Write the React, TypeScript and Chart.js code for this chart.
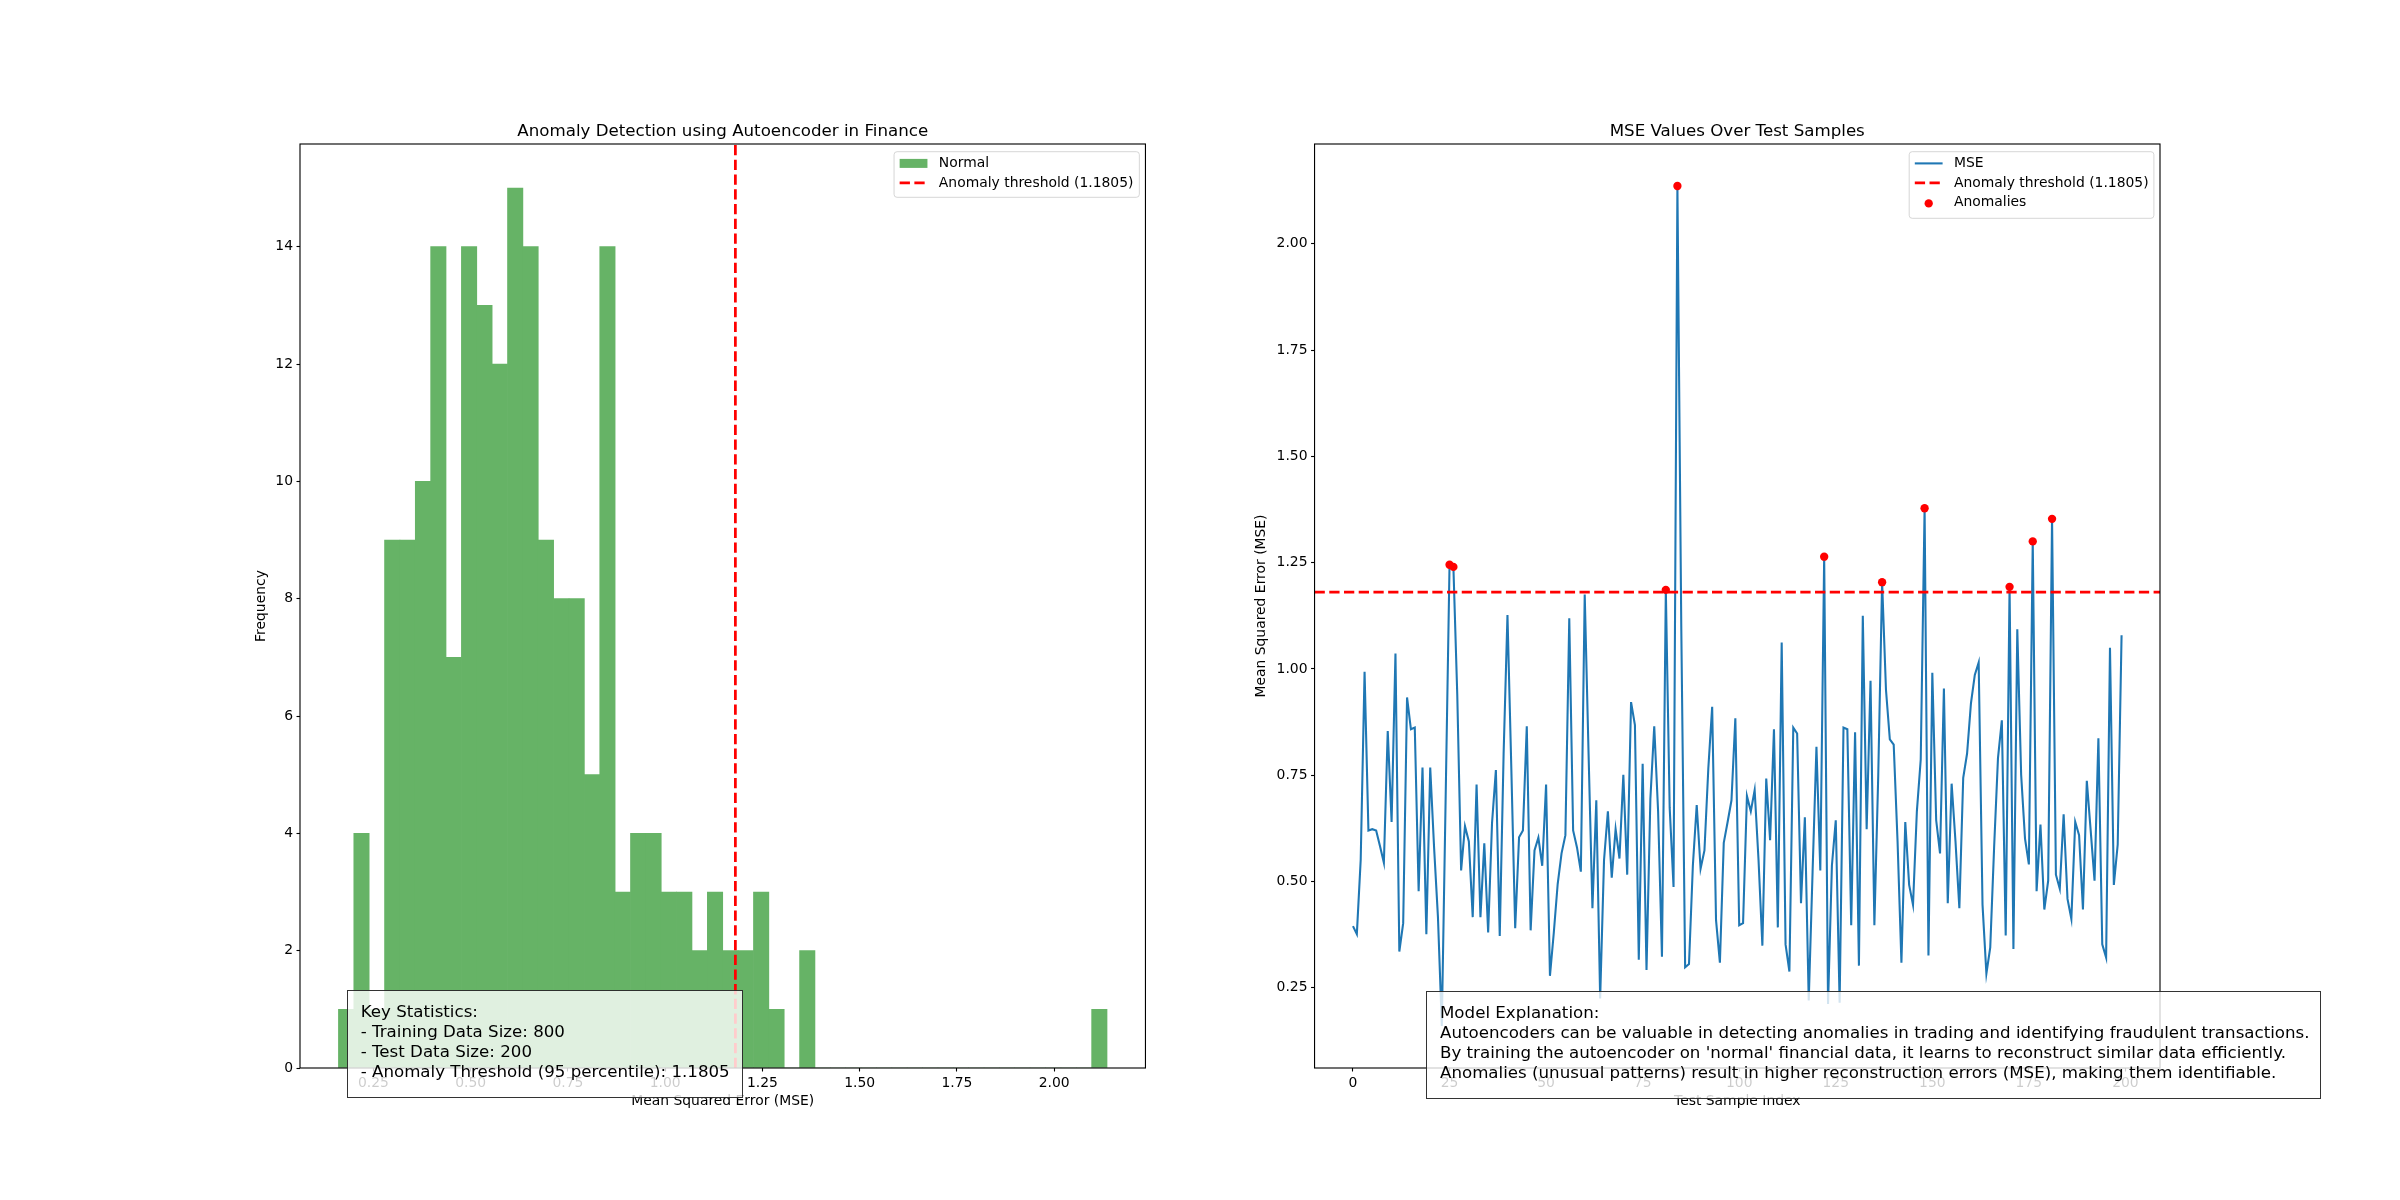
import React, { useEffect, useRef } from "react";
import { Chart, registerables } from "chart.js";

Chart.register(...registerables);

// ---------- data ----------
const mseValues: number[] = [
  0.395, 0.376, 0.551, 0.993, 0.62, 0.623, 0.62, 0.583, 0.544, 0.854,
  0.64, 1.036, 0.335, 0.402, 0.933, 0.858, 0.862, 0.477, 0.768, 0.376,
  0.768, 0.58, 0.416, 0.16, 0.7, 1.245, 1.24, 0.94, 0.526, 0.63,
  0.594, 0.416, 0.728, 0.416, 0.59, 0.38, 0.637, 0.762, 0.372, 0.8,
  1.127, 0.765, 0.39, 0.604, 0.62, 0.865, 0.385, 0.573, 0.603, 0.537,
  0.728, 0.278, 0.38, 0.494, 0.566, 0.609, 1.119, 0.62, 0.58, 0.523,
  1.175, 0.8, 0.437, 0.691, 0.225, 0.55, 0.665, 0.509, 0.623, 0.554,
  0.751, 0.516, 0.922, 0.868, 0.316, 0.777, 0.292, 0.694, 0.865, 0.665,
  0.323, 1.186, 0.673, 0.487, 2.136, 1.1, 0.298, 0.306, 0.537, 0.68,
  0.53, 0.573, 0.765, 0.911, 0.409, 0.309, 0.591, 0.64, 0.691, 0.884,
  0.397, 0.402, 0.701, 0.665, 0.715, 0.551, 0.349, 0.742, 0.597, 0.858,
  0.392, 1.062, 0.352, 0.288, 0.862, 0.848, 0.449, 0.651, 0.22, 0.523,
  0.817, 0.526, 1.264, 0.212, 0.537, 0.644, 0.215, 0.862, 0.858, 0.397,
  0.851, 0.302, 1.125, 0.623, 0.972, 0.397, 0.75, 1.204, 0.951, 0.834,
  0.822, 0.594, 0.309, 0.64, 0.492, 0.445, 0.665, 0.787, 1.378, 0.326,
  0.991, 0.644, 0.566, 0.954, 0.449, 0.73, 0.594, 0.437, 0.744, 0.801,
  0.919, 0.986, 1.015, 0.445, 0.283, 0.345, 0.58, 0.79, 0.879, 0.373,
  1.193, 0.341, 1.093, 0.751, 0.601, 0.54, 1.3, 0.477, 0.634, 0.434,
  0.502, 1.353, 0.516, 0.483, 0.658, 0.459, 0.412, 0.64, 0.609, 0.434,
  0.737, 0.62, 0.502, 0.837, 0.352, 0.321, 1.05, 0.492, 0.587, 1.079,
];

const thresholdValue = 1.1805;

// histogram counts (50 bins between min and max of the MSE values)
const histCounts: number[] = [
  1, 4, 1, 9, 9, 10, 14, 7, 14, 13,
  12, 15, 14, 9, 8, 8, 5, 14, 3, 4,
  4, 3, 3, 2, 3, 2, 2, 3, 1, 0,
  2, 0, 0, 0, 0, 0, 0, 0, 0, 0,
  0, 0, 0, 0, 0, 0, 0, 0, 0, 1,
];

const histXTicks = [0.25, 0.5, 0.75, 1.0, 1.25, 1.5, 1.75, 2.0];
const histYTicks = [0, 2, 4, 6, 8, 10, 12, 14];
const mseXTicks = [0, 25, 50, 75, 100, 125, 150, 175, 200];
const mseYTicks = [0.25, 0.5, 0.75, 1.0, 1.25, 1.5, 1.75, 2.0];

const leftTitle = "Anomaly Detection using Autoencoder in Finance";
const rightTitle = "MSE Values Over Test Samples";
const thresholdLabel = "Anomaly threshold (1.1805)";

const keyStatsLines = [
  "Key Statistics:",
  "- Training Data Size: 800",
  "- Test Data Size: 200",
  "- Anomaly Threshold (95 percentile): 1.1805",
];
const explanationLines = [
  "Model Explanation:",
  "Autoencoders can be valuable in detecting anomalies in trading and identifying fraudulent transactions.",
  "By training the autoencoder on 'normal' financial data, it learns to reconstruct similar data efficiently.",
  "Anomalies (unusual patterns) result in higher reconstruction errors (MSE), making them identifiable.",
];

// ---------- styling ----------
const FONT = "'DejaVu Sans', sans-serif";
const GREEN = "rgb(102,179,102)";
const BLUE = "#1f77b4";
const RED = "#ff0000";
const TICK_FONT = { family: FONT, size: 13.9 };

type LegendItem = { kind: "patch" | "line" | "dash" | "dot"; color: string; text: string };

function overlayPlugin(title: string, legend: LegendItem[], legW: number, legH: number) {
  return {
    id: "overlay" + title.length,
    afterDraw(chart: any) {
      const { ctx, chartArea: ca } = chart;
      ctx.save();
      // axes frame
      ctx.strokeStyle = "#000";
      ctx.lineWidth = 1.11;
      ctx.setLineDash([]);
      ctx.strokeRect(ca.left, ca.top, ca.right - ca.left, ca.bottom - ca.top);
      // title
      ctx.fillStyle = "#000";
      ctx.font = `16.67px ${FONT}`;
      ctx.textAlign = "center";
      ctx.textBaseline = "alphabetic";
      ctx.fillText(title, (ca.left + ca.right) / 2, ca.top - 8.33);
      // legend
      const x0 = ca.right - 6.1 - legW;
      const y0 = ca.top + 7.7;
      ctx.beginPath();
      if (ctx.roundRect) ctx.roundRect(x0, y0, legW, legH, 3);
      else ctx.rect(x0, y0, legW, legH);
      ctx.fillStyle = "rgba(255,255,255,0.8)";
      ctx.fill();
      ctx.strokeStyle = "rgba(204,204,204,0.8)";
      ctx.lineWidth = 1;
      ctx.stroke();
      const hx0 = x0 + 5.6;
      const hx1 = hx0 + 27.8;
      legend.forEach((it, i) => {
        const cy = y0 + 11.7 + i * 19.5;
        ctx.setLineDash([]);
        if (it.kind === "patch") {
          ctx.fillStyle = it.color;
          ctx.fillRect(hx0, cy - 4.5, hx1 - hx0, 9);
        } else if (it.kind === "line" || it.kind === "dash") {
          ctx.strokeStyle = it.color;
          ctx.lineWidth = it.kind === "line" ? 2.08 : 2.78;
          if (it.kind === "dash") ctx.setLineDash([10.28, 4.44]);
          ctx.beginPath();
          ctx.moveTo(hx0, cy);
          ctx.lineTo(hx1, cy);
          ctx.stroke();
        } else {
          ctx.fillStyle = it.color;
          ctx.beginPath();
          ctx.arc((hx0 + hx1) / 2, cy + 1, 4.17, 0, Math.PI * 2);
          ctx.fill();
        }
        ctx.fillStyle = "#000";
        ctx.font = `13.9px ${FONT}`;
        ctx.textAlign = "left";
        ctx.textBaseline = "middle";
        ctx.fillText(it.text, x0 + 44.8, cy);
      });
      ctx.restore();
    },
  };
}

function axisCommon(ticks: number[], fmt: (v: number) => string, titleText: string, horizontal: boolean, size: number) {
  return {
    type: "linear" as const,
    offset: false,
    afterBuildTicks: (s: any) => {
      s.ticks = ticks.map((v) => ({ value: v }));
    },
    afterFit: (s: any) => {
      if (horizontal) s.height = size;
      else s.width = size;
    },
    ticks: {
      callback: (v: any) => fmt(Number(v)),
      font: TICK_FONT,
      color: "#000",
      padding: 3.5,
      maxRotation: 0,
      minRotation: 0,
      autoSkip: false,
    },
    grid: {
      display: true,
      drawOnChartArea: false,
      drawTicks: true,
      tickLength: 3.5,
      tickColor: "#000",
      tickWidth: 1.11,
      offset: false,
    },
    border: { display: false },
    title: { display: true, text: titleText, font: { family: FONT, size: 13.9 }, color: "#000", padding: 0 },
  };
}

export default function App() {
  const leftRef = useRef<HTMLCanvasElement | null>(null);
  const rightRef = useRef<HTMLCanvasElement | null>(null);

  useEffect(() => {
    document.body.style.margin = "0";
    Chart.defaults.font.family = FONT;
    Chart.defaults.color = "#000";

    const mseMin = Math.min(...mseValues);
    const mseMax = Math.max(...mseValues);
    const mseRange = mseMax - mseMin;
    const binW = mseRange / histCounts.length;
    const histBars = histCounts.map((c, k) => ({ x: mseMin + (k + 0.5) * binW, y: c }));
    const histXMin = mseMin - 0.05 * mseRange;
    const histXMax = mseMax + 0.05 * mseRange;
    const histYMax = Math.max(...histCounts) * 1.05;

    const left = new Chart(leftRef.current as HTMLCanvasElement, {
      type: "bar",
      data: {
        datasets: [
          {
            type: "line",
            label: thresholdLabel,
            data: [
              { x: thresholdValue, y: 0 },
              { x: thresholdValue, y: histYMax },
            ],
            borderColor: RED,
            borderWidth: 2.78,
            borderDash: [10.28, 4.44],
            pointRadius: 0,
            order: 0,
          } as any,
          {
            type: "bar",
            label: "Normal",
            data: histBars,
            backgroundColor: GREEN,
            borderWidth: 0,
            barPercentage: 1,
            categoryPercentage: 1,
            order: 1,
          } as any,
        ],
      },
      options: {
        animation: false,
        responsive: false,
        devicePixelRatio: 1,
        events: [],
        layout: { padding: { left: 252.66, right: 84.55, top: 144, bottom: 90 } },
        plugins: { legend: { display: false }, title: { display: false }, tooltip: { enabled: false } },
        scales: {
          x: {
            ...axisCommon(histXTicks, (v) => v.toFixed(2), "Mean Squared Error (MSE)", true, 42),
            min: histXMin,
            max: histXMax,
          },
          y: {
            ...axisCommon(histYTicks, (v) => String(Math.round(v)), "Frequency", false, 47.34),
            min: 0,
            max: histYMax,
          },
        } as any,
      },
      plugins: [
        overlayPlugin(
          leftTitle,
          [
            { kind: "patch", color: GREEN, text: "Normal" },
            { kind: "dash", color: RED, text: thresholdLabel },
          ],
          245.3,
          45.6
        ),
      ],
    });

    const n = mseValues.length;
    const xMargin = 0.05 * (n - 1);
    const msePoints = mseValues.map((v, i) => ({ x: i, y: v }));
    const anomalyPoints = msePoints.filter((p) => p.y > thresholdValue);

    const right = new Chart(rightRef.current as HTMLCanvasElement, {
      type: "line",
      data: {
        datasets: [
          {
            label: "Anomalies",
            data: anomalyPoints,
            showLine: false,
            pointRadius: 4.17,
            pointBackgroundColor: RED,
            pointBorderWidth: 0,
            borderColor: RED,
            order: 0,
          } as any,
          {
            label: thresholdLabel,
            data: [
              { x: -xMargin, y: thresholdValue },
              { x: n - 1 + xMargin, y: thresholdValue },
            ],
            borderColor: RED,
            borderWidth: 2.78,
            borderDash: [10.28, 4.44],
            pointRadius: 0,
            order: 1,
          } as any,
          {
            label: "MSE",
            data: msePoints,
            borderColor: BLUE,
            borderWidth: 2.08,
            pointRadius: 0,
            tension: 0,
            order: 2,
          } as any,
        ],
      },
      options: {
        animation: false,
        responsive: false,
        devicePixelRatio: 1,
        events: [],
        layout: { padding: { left: 22.96, right: 240, top: 144, bottom: 90 } },
        plugins: { legend: { display: false }, title: { display: false }, tooltip: { enabled: false } },
        scales: {
          x: {
            ...axisCommon(mseXTicks, (v) => String(Math.round(v)), "Test Sample Index", true, 42),
            min: -xMargin,
            max: n - 1 + xMargin,
          },
          y: {
            ...axisCommon(mseYTicks, (v) => v.toFixed(2), "Mean Squared Error (MSE)", false, 61.59),
            min: mseMin - 0.05 * mseRange,
            max: mseMax + 0.05 * mseRange,
          },
        } as any,
      },
      plugins: [
        overlayPlugin(
          rightTitle,
          [
            { kind: "line", color: BLUE, text: "MSE" },
            { kind: "dash", color: RED, text: thresholdLabel },
            { kind: "dot", color: RED, text: "Anomalies" },
          ],
          244.7,
          66.6
        ),
      ],
    });

    return () => {
      left.destroy();
      right.destroy();
    };
  }, []);

  const boxStyle = (left: number, top: number, width: number, height: number): React.CSSProperties => ({
    position: "absolute",
    left,
    top,
    width,
    height,
    boxSizing: "border-box",
    border: "1.39px solid rgba(0,0,0,0.8)",
    background: "rgba(255,255,255,0.8)",
    paddingLeft: 13,
    paddingTop: 11,
    fontFamily: FONT,
    fontSize: 16.67,
    lineHeight: "20px",
    color: "#000",
    whiteSpace: "pre",
    zIndex: 2,
  });

  return (
    <div style={{ position: "absolute", left: 0, top: 0, width: 2400, height: 1200, background: "#fff", overflow: "hidden" }}>
      <canvas
        ref={leftRef}
        width={1230}
        height={1200}
        style={{ position: "absolute", left: 0, top: 0, width: 1230, height: 1200 }}
      />
      <canvas
        ref={rightRef}
        width={1170}
        height={1200}
        style={{ position: "absolute", left: 1230, top: 0, width: 1170, height: 1200 }}
      />
      <div style={boxStyle(346.7, 990, 396, 108)}>{keyStatsLines.join("\n")}</div>
      <div style={boxStyle(1426, 990.5, 895, 108)}>{explanationLines.join("\n")}</div>
    </div>
  );
}
